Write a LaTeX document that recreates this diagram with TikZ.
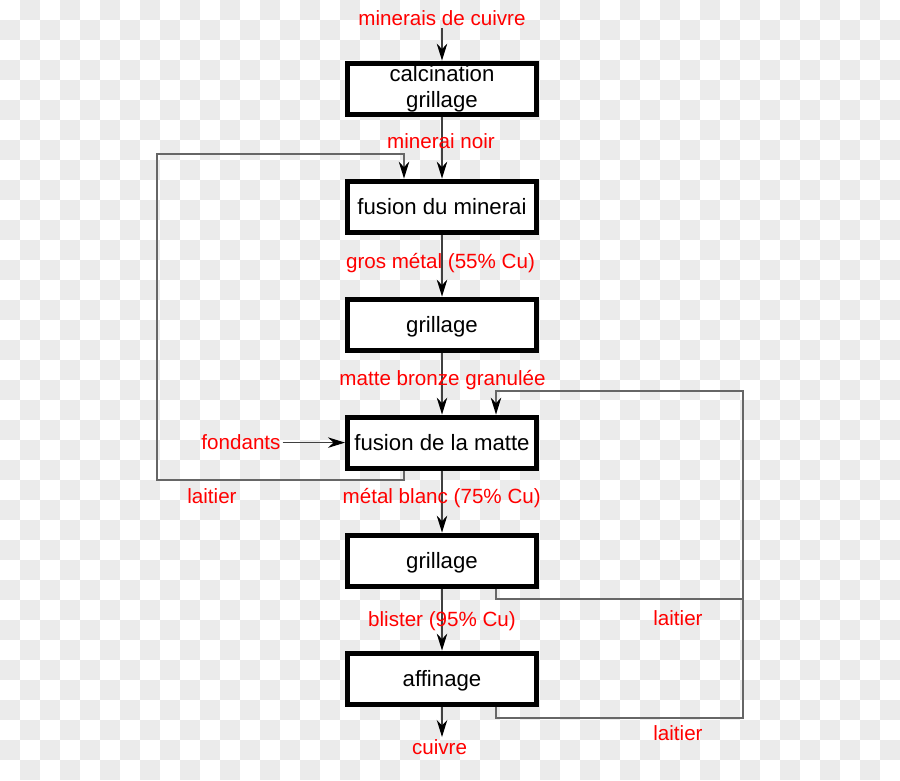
\documentclass[tikz,border=0pt]{standalone}
\usepackage{fontspec}
\usetikzlibrary{arrows.meta,calc}
\newfontfamily\labfont{Liberation Sans}
\definecolor{checkgrey}{RGB}{235,235,235}
\definecolor{lblred}{RGB}{255,0,0}
\tikzset{
  stepbox/.style={draw=black, fill=white, line width=5pt, minimum width=189pt, minimum height=51pt,
    inner sep=0pt, font=\labfont\fontsize{22.2}{26}\selectfont, align=center},
  onebox/.style={stepbox, text height=18pt, text depth=2pt},
  lbl/.style={text=lblred, font=\labfont\fontsize{20.6}{24}\selectfont, inner sep=2pt, anchor=base},
  tip/.style={-{Stealth[length=17pt,width=10.5pt,inset=5.5pt,color=black]}},
  flow/.style={draw=black!75, line width=1.1pt},
  fb/.style={draw=black!60, line width=1.4pt},
}
\begin{document}
\begin{tikzpicture}[x=1pt,y=-1pt]
\useasboundingbox (0,0) rectangle (900,780);
% checkerboard background
\fill[white] (0,0) rectangle (900,780);
\foreach \j in {0,...,38}{
  \pgfmathtruncatemacro\s{mod(\j+1,2)}
  \pgfmathtruncatemacro\t{\s+2}
  \foreach \i in {\s,\t,...,44}{
    \fill[checkgrey] (\i*20,\j*20) rectangle ++(20,20);
  }
}
% boxes
\node[stepbox] (b1) at (442,88.6) {calcination\\grillage};
\node[onebox] (b2) at (442,206.6) {fusion du minerai};
\node[onebox] (b3) at (442,324.6) {grillage};
\node[onebox] (b4) at (442,442.6) {fusion de la matte};
\node[onebox] (b5) at (442,560.6) {grillage};
\node[onebox] (b6) at (442,678.6) {affinage};
% helper coordinates
\coordinate (xl) at (404,0);
\coordinate (xr) at (496,0);
\coordinate (in) at (442,28);
\coordinate (out) at (442,737);
\coordinate (l1) at (404,480);
\coordinate (l2) at (157,480);
\coordinate (l3) at (157,154);
\coordinate (l4) at (404,154);
\coordinate (r1) at (496,599);
\coordinate (r2) at (743,599);
\coordinate (r3) at (496,718);
\coordinate (r4) at (743,718);
\coordinate (r5) at (743,391);
\coordinate (r6) at (496,391);
% main flow
\draw[flow,tip] (in) -- (b1.north);
\draw[flow,tip] (b1.south) -- (b2.north);
\draw[flow,tip] (b2.south) -- (b3.north);
\draw[flow,tip] (b3.south) -- (b4.north);
\draw[flow,tip] (b4.south) -- (b5.north);
\draw[flow,tip] (b5.south) -- (b6.north);
\draw[flow,tip] (b6.south) -- (out);
% feedback loops
\draw[fb,tip] (b4.south -| xl) -- (l1) -- (l2) -- (l3) -- (l4) -- (b2.north -| xl);
\draw[fb] (b5.south -| xr) -- (r1) -- (r2);
\draw[fb,tip] (b6.south -| xr) -- (r3) -- (r4) -- (r5) -- (r6) -- (b4.north -| xr);
% labels
\node[lbl] (t0) at (442,25.7) {minerais de cuivre};
\node[lbl] (t1) at (441,148.3) {minerai noir};
\node[lbl] (t2) at (440.5,268.3) {gros métal (55\% Cu)};
\node[lbl] (t3) at (442.5,385) {matte bronze granulée};
\node[lbl] (t4) at (441.7,503.3) {métal blanc (75\% Cu)};
\node[lbl] (t5) at (442,626) {blister (95\% Cu)};
\node[lbl] (t6) at (439.5,754) {cuivre};
\node[lbl] (fond) at (241,449) {fondants};
\node[lbl] (la1) at (212,503) {laitier};
\node[lbl] (la2) at (678,625) {laitier};
\node[lbl] (la3) at (678,740) {laitier};
\draw[flow,line width=1pt,tip] (fond.east |- b4.west) -- (b4.west);
\end{tikzpicture}
\end{document}
